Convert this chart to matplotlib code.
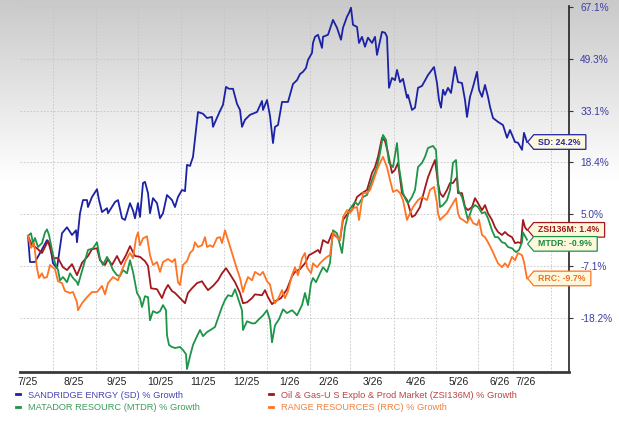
import numpy as np
from matplotlib import pyplot as plt
from matplotlib.path import Path
from matplotlib.lines import Line2D

plt.rcParams['font.family'] = ['Liberation Sans', 'DejaVu Sans']

# time index runs from the 7/25 start (0) to the 7/26 end (499)
month_labels = ['7/25', '8/25', '9/25', '10/25', '11/25', '12/25', '1/26',
                '2/26', '3/26', '4/26', '5/26', '6/26', '7/26']
month_t = [0, 46, 89, 132, 175, 218, 261, 301, 345, 388, 431, 472, 498]
grid_t = [25, 68, 110, 153, 196, 239, 282, 322, 366, 408, 450, 485, 523]

y_ticks = [-18.2, -7.1, 5.0, 18.4, 33.1, 49.3, 67.1]

sd_t = [0, 2, 7, 12, 19, 22, 25, 29, 34, 39,
        44, 48, 49, 52, 55, 59, 60, 64, 69, 71,
        74, 79, 80, 87, 90, 94, 97, 102, 105, 107,
        110, 112, 115, 117, 120, 122, 125, 129, 132, 135,
        139, 144, 147, 150, 154, 157, 159, 162, 165, 170,
        175, 179, 184, 185, 192, 195, 198, 201, 205, 209,
        212, 214, 217, 222, 229, 234, 235, 239, 242, 245,
        247, 250, 254, 260, 265, 269, 272, 275, 278, 280,
        284, 285, 287, 290, 294, 295, 300, 304, 305, 309,
        313, 315, 319, 321, 323, 325, 329, 331, 334, 337,
        340, 344, 347, 349, 354, 357, 359, 361, 364, 367,
        369, 372, 375, 379, 380, 384, 387, 390, 394, 400,
        406, 409, 411, 413, 415, 417, 420, 423, 427, 430,
        434, 437, 439, 442, 445, 449, 451, 454, 457, 460,
        462, 465, 470, 475, 479, 482, 487, 490, 494, 496,
        499]
sd_pct = [0.0, -6.1, -6.1, -4.0, -1.0, -2.0, -6.4, -7.5, 0.6, 2.0,
          0.2, 1.3, -1.5, 5.3, 8.7, 8.7, 6.9, 9.5, 11.5, 8.7,
          5.6, 6.6, 5.3, 8.2, 8.7, 4.1, 3.7, 7.9, 6.0, 4.1,
          7.9, 4.4, 13.1, 13.4, 10.5, 5.3, 9.2, 7.9, 4.1, 5.3,
          10.0, 8.7, 6.9, 9.5, 11.3, 11.0, 17.8, 17.5, 20.0, 32.7,
          32.2, 31.0, 31.3, 28.5, 33.0, 34.9, 40.5, 39.9, 39.9, 35.2,
          33.3, 28.5, 30.5, 31.9, 32.7, 36.1, 33.3, 36.4, 31.6, 23.9,
          28.5, 29.0, 35.8, 35.8, 41.4, 42.6, 44.5, 45.2, 46.4, 48.9,
          51.3, 54.7, 56.8, 57.5, 53.0, 56.8, 57.5, 61.6, 62.6, 59.9,
          55.8, 59.9, 63.7, 65.0, 66.8, 60.9, 60.2, 54.7, 56.8, 53.4,
          56.5, 54.7, 56.8, 50.6, 58.5, 58.2, 56.8, 40.2, 43.3, 42.6,
          45.8, 42.0, 43.0, 37.1, 38.0, 33.3, 34.0, 40.2, 40.8, 44.2,
          46.7, 41.7, 36.4, 34.0, 39.6, 38.0, 40.2, 38.6, 46.7, 42.0,
          41.7, 36.4, 31.3, 37.4, 40.5, 45.2, 39.6, 37.4, 41.1, 37.4,
          34.3, 31.0, 29.9, 29.0, 25.4, 27.6, 24.2, 24.0, 22.0, 26.8,
          24.2]

zsi_t = [0, 4, 9, 14, 20, 25, 30, 35, 39, 44,
         49, 54, 60, 64, 69, 72, 77, 80, 84, 89,
         93, 98, 102, 107, 112, 117, 120, 123, 129, 134,
         137, 140, 144, 147, 152, 157, 160, 164, 169, 174,
         177, 180, 185, 190, 194, 198, 202, 207, 212, 215,
         219, 224, 227, 234, 237, 240, 244, 247, 253, 259,
         264, 267, 272, 277, 281, 285, 290, 292, 295, 300,
         304, 309, 312, 315, 320, 324, 329, 334, 339, 344,
         347, 350, 354, 357, 360, 364, 367, 370, 374, 379,
         384, 387, 392, 397, 400, 404, 407, 410, 412, 415,
         419, 422, 425, 429, 430, 434, 437, 440, 444, 447,
         450, 454, 457, 460, 464, 467, 470, 474, 477, 480,
         484, 487, 490, 493, 495, 497, 499]
zsi_pct = [0.0, -2.2, -2.9, -4.0, -1.2, -5.2, -5.2, -7.3, -7.9, -6.6,
           -9.0, -6.3, -4.7, -3.1, -2.9, -5.7, -6.8, -5.4, -6.8, -4.7,
           -6.6, -4.5, -2.4, -4.7, -4.9, -5.9, -7.0, -11.8, -12.0, -13.9,
           -12.2, -11.1, -12.4, -12.8, -13.9, -15.0, -12.8, -11.8, -10.7, -10.3,
           -11.3, -12.2, -11.3, -10.1, -8.6, -7.5, -8.8, -10.5, -12.8, -15.0,
           -14.8, -13.9, -13.1, -13.3, -12.2, -13.7, -15.2, -14.6, -13.9, -12.0,
           -9.2, -8.3, -7.7, -6.4, -4.5, -4.0, -3.3, -4.0, -1.0, -1.7,
           0.6, -0.3, -1.0, 3.7, 5.3, 6.1, 9.5, 10.5, 11.3, 15.7,
           17.2, 20.0, 25.4, 24.5, 21.1, 15.7, 16.5, 18.3, 10.5, 8.7,
           4.4, 4.8, 6.9, 11.8, 14.6, 17.2, 19.1, 13.1, 10.5, 9.5,
           11.3, 13.1, 13.1, 14.6, 10.5, 10.5, 6.9, 6.1, 6.9, 9.2,
           7.9, 6.1, 7.4, 5.3, 3.7, 2.0, 0.9, 0.2, 0.9, 0.2,
           -0.3, -1.7, -1.5, -1.7, 3.7, 2.0, 1.4]

mtdr_t = [0, 3, 5, 7, 10, 14, 17, 19, 21, 24,
          27, 30, 32, 35, 39, 42, 45, 49, 50, 54,
          57, 60, 65, 69, 72, 75, 79, 82, 85, 89,
          92, 95, 99, 102, 105, 109, 112, 114, 117, 120,
          122, 125, 129, 132, 135, 138, 139, 141, 144, 147,
          152, 155, 158, 159, 162, 165, 169, 172, 175, 179,
          184, 187, 190, 194, 197, 200, 204, 207, 210, 214,
          215, 219, 224, 227, 232, 235, 239, 242, 244, 247,
          251, 255, 259, 264, 267, 269, 274, 277, 280, 283,
          285, 288, 292, 295, 299, 302, 305, 309, 314, 317,
          321, 327, 330, 335, 339, 344, 349, 352, 355, 358,
          361, 365, 369, 371, 375, 378, 380, 384, 387, 390,
          394, 397, 400, 405, 408, 410, 412, 415, 419, 422,
          425, 428, 430, 434, 437, 440, 444, 447, 450, 454,
          457, 460, 464, 467, 470, 474, 477, 480, 484, 488,
          491, 494, 495, 499]
mtdr_pct = [0.0, 0.6, -1.7, -0.5, -2.6, -1.7, 0.8, 1.5, 0.2, -3.3,
            -6.3, -7.9, -10.1, -9.4, -10.5, -8.6, -9.6, -10.5, -11.1, -8.1,
            -5.7, -3.3, -2.9, -1.5, -5.4, -6.8, -4.9, -6.3, -7.9, -9.0,
            -9.2, -7.9, -8.6, -5.7, -8.3, -12.8, -13.9, -15.8, -13.5, -13.7,
            -18.6, -16.7, -17.1, -16.7, -15.4, -16.5, -21.5, -23.4, -23.8, -24.0,
            -23.8, -24.4, -25.2, -28.1, -25.6, -23.4, -21.7, -20.5, -21.7, -20.9,
            -20.3, -19.9, -18.2, -15.8, -14.3, -13.3, -13.5, -12.0, -13.9, -16.5,
            -20.5, -18.8, -19.2, -19.2, -18.2, -17.6, -16.5, -18.6, -22.9, -19.6,
            -18.4, -16.3, -17.1, -16.5, -17.1, -17.6, -15.4, -12.8, -15.4, -10.7,
            -9.6, -10.5, -8.6, -7.3, -8.3, -6.3, 1.3, 0.6, -4.0, 2.0,
            6.1, 8.2, 7.4, 9.5, 10.0, 13.9, 17.2, 21.1, 26.2, 24.8,
            18.3, 17.2, 23.9, 17.2, 10.5, 8.7, 7.9, 9.5, 11.3, 17.2,
            18.3, 20.0, 22.5, 23.1, 21.9, 13.1, 6.9, 7.4, 8.7, 11.3,
            18.3, 19.1, 11.3, 9.5, 6.6, 3.7, 6.6, 7.4, 6.9, 5.3,
            5.6, 4.1, 1.3, -0.3, -0.3, -1.5, -1.7, -2.6, -2.9, -3.8,
            -3.3, -1.5, 0.8, -0.9]

rrc_t = [0, 3, 6, 9, 11, 14, 16, 19, 22, 27,
         30, 34, 37, 42, 45, 49, 50, 54, 59, 64,
         69, 74, 77, 80, 85, 90, 94, 98, 102, 105,
         108, 110, 112, 115, 119, 122, 125, 129, 132, 135,
         140, 144, 147, 150, 152, 155, 159, 162, 165, 167,
         170, 174, 177, 179, 182, 185, 189, 192, 194, 197,
         200, 204, 209, 212, 215, 217, 220, 224, 227, 232,
         235, 239, 242, 245, 247, 250, 254, 257, 260, 264,
         267, 270, 274, 277, 279, 283, 285, 289, 292, 295,
         299, 302, 305, 309, 312, 315, 319, 322, 325, 329,
         331, 335, 339, 342, 345, 349, 352, 355, 359, 362,
         365, 369, 372, 375, 379, 382, 385, 390, 394, 399,
         402, 406, 409, 410, 412, 415, 419, 422, 425, 428,
         430, 432, 435, 439, 442, 445, 449, 451, 454, 457,
         460, 464, 467, 470, 474, 477, 480, 484, 487, 490,
         494, 496, 499]
rrc_pct = [0.0, -2.8, -1.7, -7.5, -9.6, -8.6, -9.6, -9.4, -6.8, -7.7,
           -10.3, -10.7, -12.4, -12.8, -12.6, -14.8, -16.5, -15.0, -13.7, -12.6,
           -12.6, -11.3, -13.1, -10.7, -9.4, -10.1, -7.9, -5.7, -4.0, -5.2,
           -0.6, 0.8, -2.2, -0.6, -0.1, -4.5, -6.8, -6.1, -8.3, -6.1,
           -5.4, -6.1, -5.4, -10.5, -11.1, -6.8, -5.9, -4.0, -3.3, -1.5,
           -2.6, -2.2, -0.3, -2.6, -2.2, -2.6, -0.5, -0.3, -1.7, 1.3,
           -1.0, -4.0, -7.7, -9.6, -12.6, -11.1, -9.4, -10.1, -8.3, -9.0,
           -8.3, -10.3, -11.0, -13.9, -15.0, -14.1, -12.2, -13.9, -12.4, -9.0,
           -7.3, -9.0, -5.2, -4.0, -7.3, -8.6, -6.4, -7.3, -6.4, -5.7,
           -4.9, -4.5, 0.8, -0.3, -1.0, 4.4, 6.1, 5.3, 6.6, 6.9,
           3.7, 10.5, 10.5, 11.3, 13.4, 16.5, 18.3, 20.0, 17.2, 13.9,
           10.8, 11.3, 10.5, 8.7, 3.7, 5.3, 6.9, 8.7, 9.5, 8.7,
           11.3, 12.1, 7.9, 5.3, 3.7, 4.4, 5.3, 6.6, 7.9, 9.2,
           5.3, 4.1, 3.7, 3.0, 4.4, 3.0, 2.5, 3.7, 0.2, -0.3,
           -1.5, -3.3, -4.9, -6.4, -7.3, -6.4, -7.3, -4.9, -5.7, -4.0,
           -4.5, -6.1, -9.7]

series = [
    ('SANDRIDGE ENRGY (SD) % Growth', 'SD', sd_t, sd_pct, '#1c22a4', '#4646b4', '#2828a0'),
    ('Oil & Gas-U S Explo & Prod Market (ZSI136M) % Growth', 'ZSI136M', zsi_t, zsi_pct, '#a3181c', '#bb4444', '#a01818'),
    ('MATADOR RESOURC (MTDR) % Growth', 'MTDR', mtdr_t, mtdr_pct, '#1e9448', '#3c9c5c', '#1a8a40'),
    ('RANGE RESOURCES (RRC) % Growth', 'RRC', rrc_t, rrc_pct, '#ff7324', '#f0823e', '#f07028'),
]

# the right axis ticks sit evenly spaced, so map values between them linearly
scale_vals = np.array([-36.5, -28.3] + y_ticks + [87.0])
scale_pos = np.arange(len(scale_vals), dtype=float)


def fwd(v):
    return np.interp(v, scale_vals, scale_pos)


def inv(p):
    return np.interp(p, scale_pos, scale_vals)


def tag_box(x0, y0, width, height, mutation_size):
    pl = 0.5*mutation_size
    pr = 0.6*mutation_size
    pv = 0.32*mutation_size
    left = x0 - pl
    right = x0 + width + pr
    bottom = y0 - pv
    top = y0 + height + pv
    tip = left - 0.7*mutation_size
    mid = (bottom + top)/2
    verts = [(tip, mid), (left, bottom), (right, bottom), (right, top), (left, top), (tip, mid)]
    return Path(verts, closed=True)


def main():
    fig = plt.figure(figsize=(6.19, 4.21), dpi=100)

    bg = fig.add_axes([0, 0, 1, 1], zorder=-1)
    rows = np.arange(421)
    shade = np.clip(1.0 - 0.21*(1 - rows/180.0), 0.79, 1.0)
    shade[rows > 180] = 1.0
    grad = np.repeat(shade[:, None], 3, axis=1)[:, None, :]
    bg.imshow(grad, aspect='auto', extent=[0, 1, 0, 1])
    bg.axis('off')

    ax = fig.add_axes([20/619, 1 - 372/421, 549/619, 366/421])
    ax.set_facecolor('none')
    ax.set_yscale('function', functions=(fwd, inv))

    for label, short, t, pct, color, lcolor, tcolor in series:
        ax.plot(t, pct, color=color, lw=1.3, solid_joinstyle='round')

    ax.set_xlim(-8, 541)
    ax.set_ylim(-28.6, 67.4)

    ax.set_yticks(y_ticks)
    ax.set_yticklabels(['%.1f%%' % v for v in y_ticks])
    ax.yaxis.tick_right()
    ax.tick_params(axis='y', which='major', length=3, width=0.8, color='#333333',
                   labelsize=7.3, labelcolor='#3c3ca0', pad=5)
    ax.yaxis.set_minor_locator(plt.NullLocator())

    ax.set_xticks(month_t)
    ax.set_xticklabels(month_labels)
    ax.set_xticks(grid_t, minor=True)
    ax.tick_params(axis='x', which='both', length=0, labelsize=7.5,
                   labelcolor='#222222', pad=3.5)

    ax.grid(True, axis='y', which='major', linestyle=(0, (2, 2)), color='#c4c4c4', lw=0.6)
    ax.grid(True, axis='x', which='minor', linestyle=(0, (2, 2)), color='#c4c4c4', lw=0.6)
    ax.grid(False, axis='x', which='major')

    for side in ['left', 'top']:
        ax.spines[side].set_visible(False)
    ax.spines['bottom'].set_color('#3a3a3a')
    ax.spines['bottom'].set_linewidth(2.0)
    ax.spines['right'].set_color('#222222')
    ax.spines['right'].set_linewidth(1.2)

    # value tags at the end of each line
    tag_shift = {'SD': 0, 'ZSI136M': 0, 'MTDR': -3, 'RRC': 0}
    for label, short, t, pct, color, lcolor, tcolor in series:
        ax.annotate('%s: %.1f%%' % (short, pct[-1]), xy=(t[-1], pct[-1]),
                    xytext=(8, tag_shift[short]), textcoords='offset points',
                    ha='left', va='center', fontsize=6.3, fontweight='bold', color=tcolor,
                    bbox=dict(boxstyle=tag_box, fc='#fdf8dc', ec=color, lw=0.9),
                    annotation_clip=False, zorder=5)

    # two-column legend under the axis
    handles = [Line2D([0], [0], color=s[4], lw=2) for s in series]
    top_y = 1 - 390.5/421
    for cols, x in [((0, 2), 16), ((1, 3), 269)]:
        leg = fig.legend([handles[i] for i in cols], [series[i][0] for i in cols],
                         loc='upper left', bbox_to_anchor=(x/619, top_y), frameon=False,
                         fontsize=6.7, handlelength=0.45, handletextpad=0.8,
                         labelspacing=0.35, borderpad=0, borderaxespad=0)
        for txt, i in zip(leg.get_texts(), cols):
            txt.set_color(series[i][5])

    fig.savefig('out.png', dpi=100)


if __name__ == '__main__':
    main()
